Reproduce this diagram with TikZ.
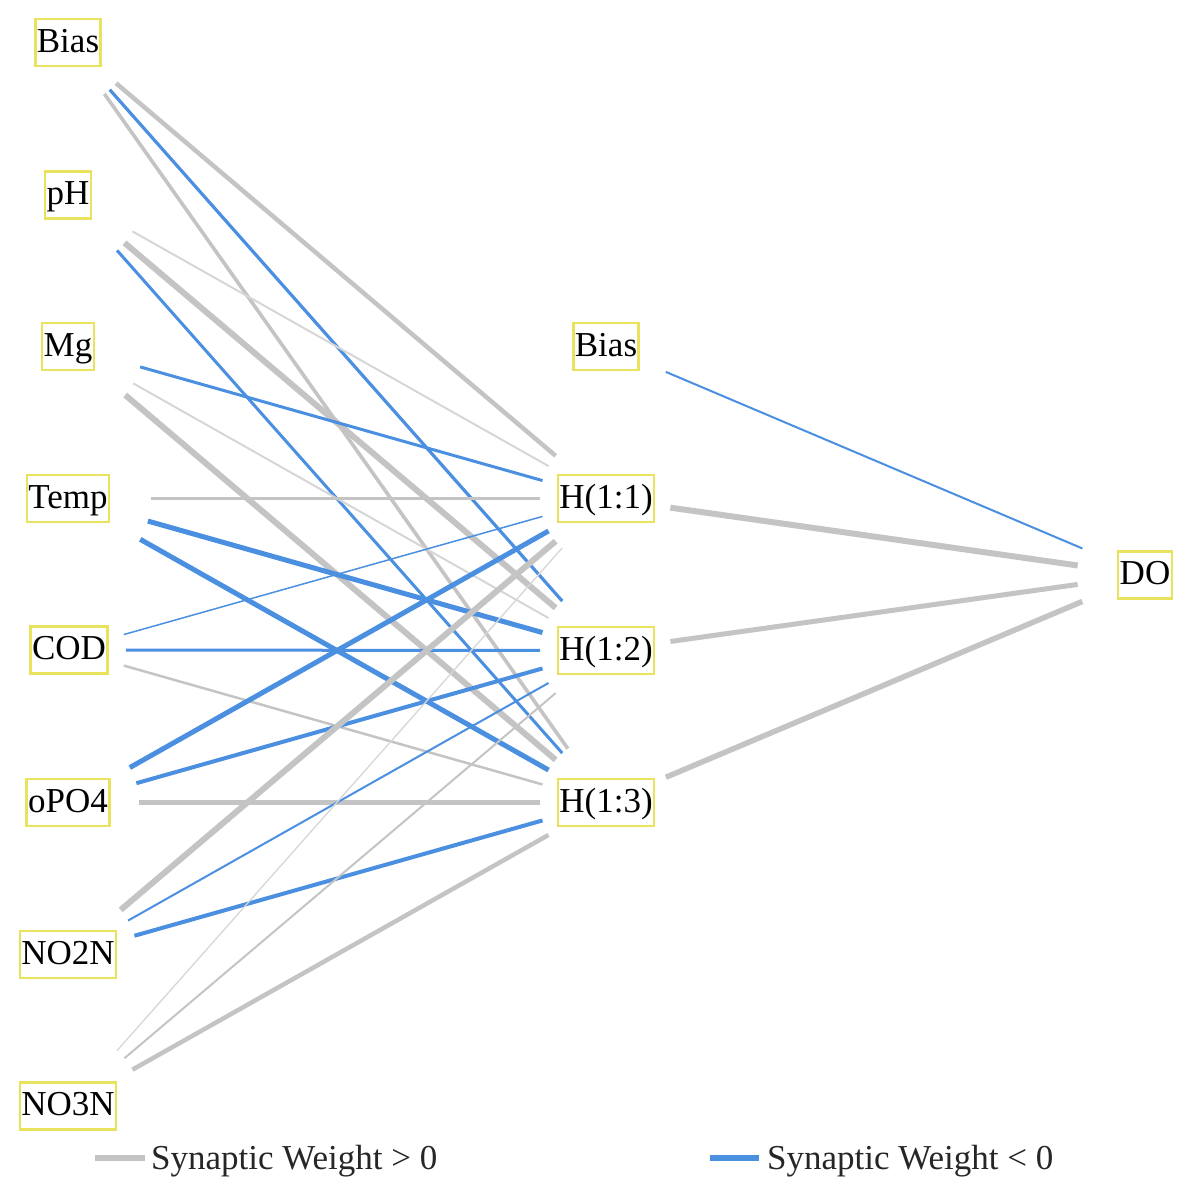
\documentclass[tikz,border=0pt]{standalone}
\usepackage{fontspec}
\setmainfont{Liberation Serif}
\definecolor{boxyellow}{RGB}{232,226,92}
\definecolor{wgray}{RGB}{196,196,196}
\definecolor{wlight}{RGB}{214,214,214}
\definecolor{wblue}{RGB}{74,143,224}
\begin{document}
\begin{tikzpicture}[x=1pt,y=-1pt,
  nnode/.style={draw=boxyellow, line width=2.4pt, inner xsep=1.5pt, inner ysep=0pt,
    text height=33pt, text depth=14pt, font=\fontsize{35}{41}\selectfont},
  lgtext/.style={anchor=base west, inner sep=0pt, font=\fontsize{35}{41}\selectfont, text=black!85},
  posw/.style={draw=wgray, line width=#1},
  lightw/.style={draw=wlight, line width=#1},
  negw/.style={draw=wblue, line width=#1},
  tin/.style={shorten >=66pt},
  sBias/.style={shorten <=63pt},
  spH/.style={shorten <=74pt},
  sMg/.style={shorten <=75pt},
  sTemp/.style={shorten <=83pt},
  sCOD/.style={shorten <=57pt},
  soPO/.style={shorten <=71pt},
  sNOt/.style={shorten <=69pt},
  sNOd/.style={shorten <=74pt},
  hout/.style={shorten <=65pt, shorten >=68pt}
]
\useasboundingbox (0,0) rectangle (1188,1187);
% input layer
\node[nnode] (iBias) at (68,42.5) {Bias};
\node[nnode] (ipH) at (68,195) {pH};
\node[nnode] (iMg) at (68,346.5) {Mg};
\node[nnode] (iTemp) at (68,498.5) {Temp};
\node[nnode] (iCOD) at (69,650) {COD};
\node[nnode] (ioPO) at (68,802.5) {oPO4};
\node[nnode] (iNOt) at (68,954.5) {NO2N};
\node[nnode] (iNOd) at (68,1106) {NO3N};
% hidden layer
\node[nnode] (hBias) at (606,346.5) {Bias};
\node[nnode] (h1) at (606,498.5) {H(1:1)};
\node[nnode] (h2) at (606,650.5) {H(1:2)};
\node[nnode] (h3) at (606,802.5) {H(1:3)};
% output
\node[nnode] (oDO) at (1145,575) {DO};
% input -> hidden
\draw[posw=4.5,sBias,tin] (iBias.center) -- (h1.center);
\draw[negw=3.2,sBias,tin] (iBias.center) -- (h2.center);
\draw[posw=3.6,sBias,tin] (iBias.center) -- (h3.center);
\draw[lightw=2,spH,tin] (ipH.center) -- (h1.center);
\draw[posw=6,spH,tin] (ipH.center) -- (h2.center);
\draw[negw=3,spH,tin] (ipH.center) -- (h3.center);
\draw[negw=3,sMg,tin] (iMg.center) -- (h1.center);
\draw[lightw=2,sMg,tin] (iMg.center) -- (h2.center);
\draw[posw=6,sMg,tin] (iMg.center) -- (h3.center);
\draw[posw=3,sTemp,tin] (iTemp.center) -- (h1.center);
\draw[negw=5,sTemp,tin] (iTemp.center) -- (h2.center);
\draw[negw=5,sTemp,tin] (iTemp.center) -- (h3.center);
\draw[negw=1.5,sCOD,tin] (iCOD.center) -- (h1.center);
\draw[negw=3,sCOD,tin] (iCOD.center) -- (h2.center);
\draw[posw=2.5,sCOD,tin] (iCOD.center) -- (h3.center);
\draw[negw=5,soPO,tin] (ioPO.center) -- (h1.center);
\draw[negw=4,soPO,tin] (ioPO.center) -- (h2.center);
\draw[posw=5,soPO,tin] (ioPO.center) -- (h3.center);
\draw[posw=6,sNOt,tin] (iNOt.center) -- (h1.center);
\draw[negw=2,sNOt,tin] (iNOt.center) -- (h2.center);
\draw[negw=4,sNOt,tin] (iNOt.center) -- (h3.center);
\draw[lightw=1.3,sNOd,tin] (iNOd.center) -- (h1.center);
\draw[posw=2,sNOd,tin] (iNOd.center) -- (h2.center);
\draw[posw=4.5,sNOd,tin] (iNOd.center) -- (h3.center);
% hidden -> output
\draw[negw=2,hout] (hBias.center) -- (oDO.center);
\draw[posw=6,hout] (h1.center) -- (oDO.center);
\draw[posw=5,hout] (h2.center) -- (oDO.center);
\draw[posw=5.5,hout] (h3.center) -- (oDO.center);
% legend
\coordinate (lgA) at (95,1158);
\coordinate (lgB) at (145,1158);
\coordinate (lbA) at (710,1158);
\coordinate (lbB) at (759,1158);
\draw[posw=6] (lgA) -- (lgB);
\draw[negw=6] (lbA) -- (lbB);
\node[lgtext] (lgPos) at (151,1169) {Synaptic Weight > 0};
\node[lgtext] (lgNeg) at (767,1169) {Synaptic Weight < 0};
\end{tikzpicture}
\end{document}
